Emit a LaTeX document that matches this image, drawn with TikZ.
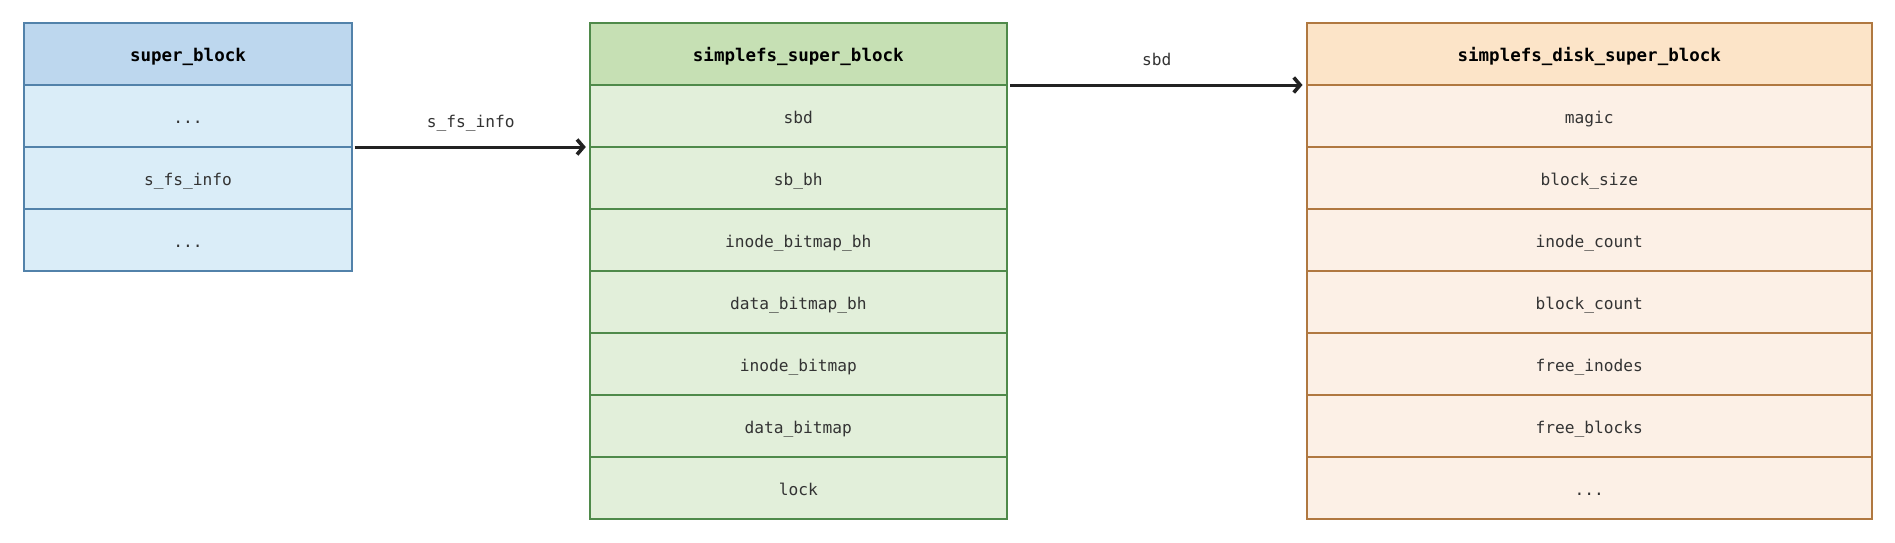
\documentclass[tikz,border=0pt]{standalone}
\usepackage{fontspec}
\setmonofont{DejaVu Sans Mono}
\usetikzlibrary{positioning,arrows.meta}

\definecolor{sbhead}{HTML}{BDD7EE}
\definecolor{sbrow}{HTML}{DAEDF8}
\definecolor{sbline}{HTML}{5282AA}
\definecolor{ssbhead}{HTML}{C6E0B4}
\definecolor{ssbrow}{HTML}{E2EFDA}
\definecolor{ssbline}{HTML}{4F8A4A}
\definecolor{dsbhead}{HTML}{FCE4C8}
\definecolor{dsbrow}{HTML}{FCF0E6}
\definecolor{dsbline}{HTML}{B07840}
\definecolor{txt}{HTML}{333333}
\definecolor{arrowc}{HTML}{222222}

\begin{document}
\begin{tikzpicture}[x=1pt,y=1pt,>={Straight Barb[length=3.2pt,width=7.5pt,line width=1.8pt]},
    field/.style={draw, line width=1pt, minimum height=31pt, inner sep=0pt, outer sep=0pt,
        text height=7.4pt, text depth=0.2pt, text=txt, font=\ttfamily\fontsize{8.1}{10}\selectfont},
    head/.style={font=\ttfamily\bfseries\fontsize{8.75}{10}\selectfont, text=black},
    sbbox/.style={field, draw=sbline, fill=sbrow, minimum width=163.75pt},
    ssbbox/.style={field, draw=ssbline, fill=ssbrow, minimum width=208.5pt},
    dsbbox/.style={field, draw=dsbline, fill=dsbrow, minimum width=282.8pt},
    ptr/.style={->, draw=arrowc, line width=1.5pt, shorten <=1.5pt, shorten >=2pt},
    ptrlabel/.style={midway, yshift=12.1pt, text=txt, text height=6pt, text depth=1.5pt,
        font=\ttfamily\fontsize{8.1}{10}\selectfont}]
    \useasboundingbox (0,0) rectangle (947.5,-271);

    % super_block
    \node (sb) [sbbox, head, fill=sbhead, anchor=north west] at (12.1,-11.5) {super\_block};
    \node (sb1) [sbbox, below=0pt of sb] {...};
    \node (sb2) [sbbox, below=0pt of sb1] {s\_fs\_info};
    \node (sb3) [sbbox, below=0pt of sb2] {...};

    % simplefs_super_block
    \node (ssb) [ssbbox, head, fill=ssbhead, anchor=north west] at (294.9,-11.5) {simplefs\_super\_block};
    \node (ssb1) [ssbbox, below=0pt of ssb] {sbd};
    \node (ssb2) [ssbbox, below=0pt of ssb1] {sb\_bh};
    \node (ssb3) [ssbbox, below=0pt of ssb2] {inode\_bitmap\_bh};
    \node (ssb4) [ssbbox, below=0pt of ssb3] {data\_bitmap\_bh};
    \node (ssb5) [ssbbox, below=0pt of ssb4] {inode\_bitmap};
    \node (ssb6) [ssbbox, below=0pt of ssb5] {data\_bitmap};
    \node (ssb7) [ssbbox, below=0pt of ssb6] {lock};

    % simplefs_disk_super_block
    \node (dsb) [dsbbox, head, fill=dsbhead, anchor=north west] at (653.25,-11.5) {simplefs\_disk\_super\_block};
    \node (dsb1) [dsbbox, below=0pt of dsb] {magic};
    \node (dsb2) [dsbbox, below=0pt of dsb1] {block\_size};
    \node (dsb3) [dsbbox, below=0pt of dsb2] {inode\_count};
    \node (dsb4) [dsbbox, below=0pt of dsb3] {block\_count};
    \node (dsb5) [dsbbox, below=0pt of dsb4] {free\_inodes};
    \node (dsb6) [dsbbox, below=0pt of dsb5] {free\_blocks};
    \node (dsb7) [dsbbox, below=0pt of dsb6] {...};

    \draw[ptr] (sb1.south east) -- node[ptrlabel]{s\_fs\_info} (ssb1.south west);
    \draw[ptr] (ssb.south east) -- node[ptrlabel]{sbd} (dsb.south west);
\end{tikzpicture}
\end{document}
